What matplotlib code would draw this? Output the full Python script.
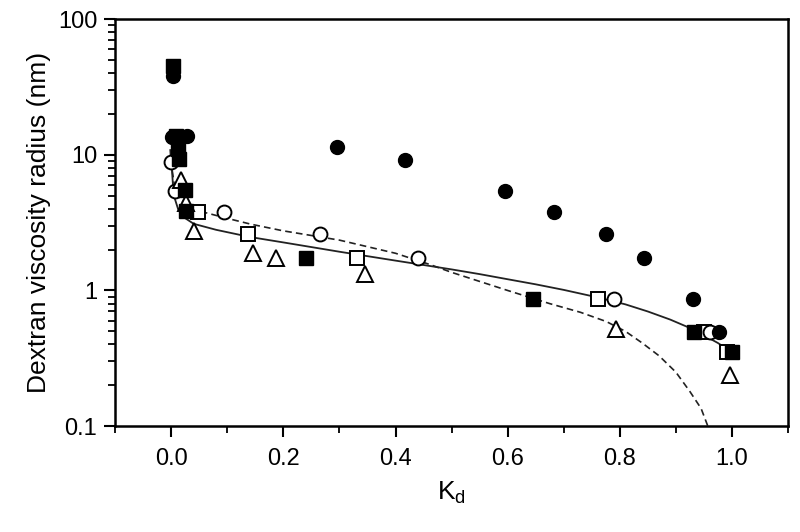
import matplotlib
matplotlib.use("Agg")
import matplotlib.pyplot as plt
from matplotlib.ticker import FixedLocator, LogLocator, NullFormatter, FuncFormatter

plt.rcParams['font.family'] = ['Liberation Sans', 'DejaVu Sans']
plt.rcParams['mathtext.fontset'] = 'custom'
plt.rcParams['mathtext.rm'] = 'Liberation Sans'
plt.rcParams['mathtext.it'] = 'Liberation Sans'

# data (Kd, radius in nm)
filled_circle_kd = [0.003, 0.002, 0.028, 0.295, 0.416, 0.596, 0.682, 0.776, 0.844, 0.931, 0.977]
filled_circle_r = [38, 13.5, 13.8, 11.5, 9.1, 5.4, 3.8, 2.6, 1.73, 0.87, 0.49]

filled_square_kd = [0.003, 0.008, 0.012, 0.014, 0.024, 0.027, 0.241, 0.645, 0.933, 1.0]
filled_square_r = [45, 13.8, 11.0, 9.3, 5.46, 3.88, 1.73, 0.87, 0.49, 0.35]

open_circle_kd = [0.0, 0.006, 0.094, 0.265, 0.44, 0.789, 0.96]
open_circle_r = [8.8, 5.4, 3.82, 2.59, 1.74, 0.87, 0.49]

open_square_kd = [0.047, 0.136, 0.332, 0.761, 0.95, 0.992]
open_square_r = [3.82, 2.62, 1.74, 0.87, 0.49, 0.35]

triangle_kd = [0.018, 0.027, 0.041, 0.145, 0.186, 0.345, 0.793, 0.996]
triangle_r = [6.5, 4.45, 2.74, 1.9, 1.73, 1.33, 0.52, 0.24]

# fitted curves
solid_kd = [0.001, 0.003, 0.006, 0.012, 0.023, 0.04, 0.08, 0.14, 0.2, 0.3, 0.4, 0.5,
            0.55, 0.6, 0.65, 0.7, 0.76, 0.81, 0.85, 0.89, 0.92, 0.953, 0.975, 1.0]
solid_r = [8.0, 6.0, 4.8, 4.0, 3.45, 3.1, 2.8, 2.48, 2.26, 1.93, 1.66, 1.43,
           1.32, 1.21, 1.11, 1.01, 0.89, 0.79, 0.70, 0.61, 0.54, 0.46, 0.41, 0.35]

dashed_kd = [-0.002, 0.0, 0.005, 0.012, 0.025, 0.05, 0.1, 0.142, 0.2, 0.3, 0.4, 0.462,
             0.5, 0.6, 0.675, 0.73, 0.776, 0.81, 0.84, 0.87, 0.9, 0.925, 0.945, 0.957]
dashed_r = [11.0, 8.5, 6.2, 5.0, 4.3, 3.85, 3.4, 3.08, 2.75, 2.35, 1.88, 1.55,
            1.36, 1.0, 0.80, 0.69, 0.59, 0.50, 0.41, 0.33, 0.25, 0.18, 0.135, 0.1]

fig = plt.figure(figsize=(8, 5.32), dpi=100)
ax = fig.add_axes([0.144, 0.199, 0.841, 0.765])

ax.plot(solid_kd, solid_r, color='#222222', lw=1.3, zorder=2)
ax.plot(dashed_kd, dashed_r, color='#222222', lw=1.2, dashes=(4, 2.5), zorder=2)

ms = 10
ax.plot(open_square_kd, open_square_r, 's', ms=ms, mfc='white', mec='black', mew=1.4, zorder=3)
ax.plot(open_circle_kd, open_circle_r, 'o', ms=ms, mfc='white', mec='black', mew=1.4, zorder=3)
ax.plot(triangle_kd, triangle_r, '^', ms=ms + 1, mfc='white', mec='black', mew=1.4, zorder=3)
ax.plot(filled_circle_kd, filled_circle_r, 'o', ms=ms, color='black', zorder=4)
ax.plot(filled_square_kd, filled_square_r, 's', ms=ms, color='black', zorder=4)

ax.set_yscale('log')
ax.set_ylim(0.1, 100)
ax.set_xlim(-0.1, 1.1)

ax.xaxis.set_major_locator(FixedLocator([0.0, 0.2, 0.4, 0.6, 0.8, 1.0]))
ax.xaxis.set_minor_locator(FixedLocator([-0.1, 0.1, 0.3, 0.5, 0.7, 0.9, 1.1]))
ax.xaxis.set_major_formatter(FuncFormatter(lambda v, p: '%.1f' % v))
ax.yaxis.set_major_locator(FixedLocator([0.1, 1, 10, 100]))
ax.yaxis.set_minor_locator(LogLocator(base=10, subs=range(2, 10)))
ax.yaxis.set_minor_formatter(NullFormatter())
ax.yaxis.set_major_formatter(FuncFormatter(lambda v, p: '%g' % v))

ax.tick_params(which='major', direction='out', length=8, width=1.5, labelsize=17, pad=5)
ax.tick_params(which='minor', direction='out', length=5, width=1.3)
ax.tick_params(axis='x', which='major', pad=8)
for s in ax.spines.values():
    s.set_linewidth(1.8)

ax.set_xlabel('K$_\\mathrm{d}$', fontsize=19, labelpad=7)
ax.set_ylabel('Dextran viscosity radius (nm)', fontsize=19, labelpad=5)

fig.savefig('out.png', dpi=100)
